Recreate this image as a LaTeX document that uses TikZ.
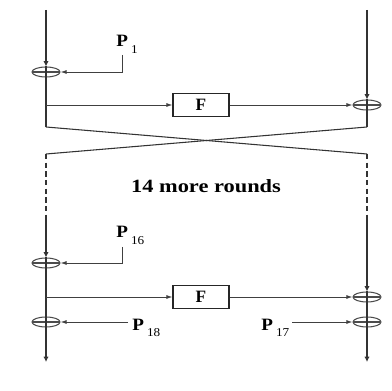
\documentclass[tikz,border=0pt]{standalone}
\usepackage{fontspec}
\setmainfont{Liberation Serif}
\usetikzlibrary{arrows.meta,shapes.geometric}

\newcommand{\subkey}[1]{P\,\raisebox{-0.8ex}{\fontsize{9}{9}\selectfont\mdseries #1}}

\begin{document}
\begin{tikzpicture}[
    x=0.75pt, y=-0.75pt,
    wire/.style={draw=black!80, line width=1.4pt},
    cross/.style={draw=black!80, line width=0.8pt},
    tip/.style={-{Latex[length=4pt,width=4pt]}},
    feed/.style={draw=black!75, line width=0.7pt, -{Latex[length=4.5pt,width=3pt]}},
    xor/.style={ellipse, draw=black!70, line width=0.8pt, minimum width=21pt, minimum height=7.5pt, inner sep=0pt,
        path picture={\draw[black!70, line width=0.8pt] (path picture bounding box.west) -- (path picture bounding box.east);}},
    fbox/.style={draw=black!85, line width=0.8pt, minimum width=42pt, minimum height=17pt, inner sep=0pt, font=\fontsize{13}{13}\selectfont\bfseries},
    key/.style={font=\fontsize{13}{13}\selectfont\bfseries, xscale=1.1, inner sep=0pt}
]
\useasboundingbox (0,0) rectangle (392,391);

% XOR nodes and round functions
\node[xor] (lx1) at (46,72) {};
\node[xor] (rx1) at (367,105) {};
\node[xor] (lx2) at (46,263) {};
\node[xor] (rx2) at (367,297) {};
\node[xor] (lx3) at (46,322) {};
\node[xor] (rx3) at (367,322) {};
\node[fbox] (f1) at (201,105) {F};
\node[fbox] (f2) at (201,297) {F};

% points on the halves
\coordinate (ltop) at (46,10);   \coordinate (rtop) at (367,10);
\coordinate (ltap1) at (46,105); \coordinate (ltap2) at (46,297);
\coordinate (lbend) at (46,127); \coordinate (rbend) at (367,127);
\coordinate (ldash) at (46,154); \coordinate (rdash) at (367,154);
\coordinate (lres) at (46,216);  \coordinate (rres) at (367,216);
\coordinate (lend) at (46,362);  \coordinate (rend) at (367,362);

% subkey labels
\node[key, anchor=base west] (k1) at (116,47) {\subkey{1}};
\node[key, anchor=base west] (k16) at (116,238) {\subkey{16}};
\node[key, anchor=base west] (k18) at (132,330) {\subkey{18}};
\node[key, anchor=base west] (k17) at (261,330) {\subkey{17}};
\coordinate (k1a) at (122,55);
\coordinate (k16a) at (122,247);
\coordinate (k18a) at (128,322);
\coordinate (k17a) at (292,322);

\node[font=\fontsize{14}{14}\selectfont\bfseries, xscale=1.2, anchor=base] (more) at (206,193) {14 more rounds};

% first round
\draw[wire, tip] (ltop) -- (lx1.north);
\draw[wire] (lx1.north) -- (lbend);
\draw[wire, tip] (rtop) -- (rx1.north);
\draw[wire] (rx1.north) -- (rbend);
\draw[cross] (lbend) -- (rdash);
\draw[cross] (rbend) -- (ldash);
\draw[feed] (k1a) |- (lx1.east);
\draw[feed] (ltap1) -- (f1.west);
\draw[feed] (f1.east) -- (rx1.west);

% skipped rounds
\draw[wire, dash pattern=on 4pt off 2.5pt] (ldash) -- (lres);
\draw[wire, dash pattern=on 4pt off 2.5pt] (rdash) -- (rres);

% last round and output whitening
\draw[wire, tip] (lres) -- (lx2.north);
\draw[wire] (lx2.north) -- (lx3.center);
\draw[wire, tip] (lx3.center) -- (lend);
\draw[wire, tip] (rres) -- (rx2.north);
\draw[wire] (rx2.north) -- (rx3.center);
\draw[wire, tip] (rx3.center) -- (rend);
\draw[feed] (k16a) |- (lx2.east);
\draw[feed] (ltap2) -- (f2.west);
\draw[feed] (f2.east) -- (rx2.west);
\draw[feed] (k18a) -- (lx3.east);
\draw[feed] (k17a) -- (rx3.west);

\end{tikzpicture}
\end{document}
